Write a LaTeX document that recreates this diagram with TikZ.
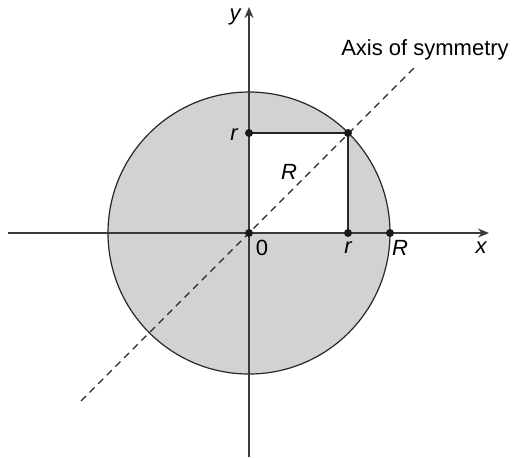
\documentclass[tikz,border=0pt]{standalone}
\usepackage{fontspec}
\setmainfont{Liberation Sans}
\usetikzlibrary{arrows.meta}
\definecolor{diskgray}{HTML}{D1D2D4}
\definecolor{axisgray}{HTML}{3A3A3A}
\begin{document}
\begin{tikzpicture}[x=0.5pt,y=-0.5pt,
  axis/.style={line width=0.8pt, draw=axisgray, -{Stealth[length=5.5pt,width=4.5pt]}},
  thin line/.style={line width=0.6pt, draw=black!85},
  dot/.style={circle, fill=black!90, inner sep=0pt, minimum size=4pt},
  lab/.style={font=\fontsize{11}{13}\selectfont\itshape, inner sep=0pt},
  uplab/.style={font=\fontsize{11}{13}\selectfont, inner sep=0pt},
  symline/.style={line width=0.6pt, draw=black!85, dash pattern=on 3.5pt off 2.6pt}]
\useasboundingbox (0,0) rectangle (512,457);
% key points
\coordinate (O) at (249,233);
\coordinate (P) at (348,133);
\coordinate (RY) at (249,133);
\coordinate (RX) at (348,233);
\coordinate (BR) at (390,233);
\coordinate (XL) at (8,233);
\coordinate (XR) at (489,233);
\coordinate (YB) at (249,457);
\coordinate (YT) at (249,7);
\coordinate (DL) at (81,401);
\coordinate (DT) at (417,65);
% disk
\fill[diskgray] (O) circle [radius=141];
\fill[white] (O) rectangle (P);
\draw[thin line] (O) circle [radius=141];
\draw[thin line] (RY) -- (P) -- (RX);
% axes
\draw[axis] (XL) -- (XR);
\draw[axis] (YB) -- (YT);
% axis of symmetry
\draw[symline] (DL) -- (DT);
% dots
\node[dot] (dO) at (O) {};
\node[dot] (dP) at (P) {};
\node[dot] (dRY) at (RY) {};
\node[dot] (dRX) at (RX) {};
\node[dot] (dBR) at (BR) {};
% labels
\node[lab] (ly) at (235,17) {y};
\node[lab] (lx) at (481,248) {x};
\node[lab] (lr1) at (234,135) {r};
\node[uplab] (l0) at (262,248) {0};
\node[lab] (lr2) at (348,248) {r};
\node[lab] (lR1) at (400,248) {R};
\node[lab] (lR2) at (289,172) {R};
\node[uplab] (laxis) at (425,50) {Axis of symmetry};
\end{tikzpicture}
\end{document}
